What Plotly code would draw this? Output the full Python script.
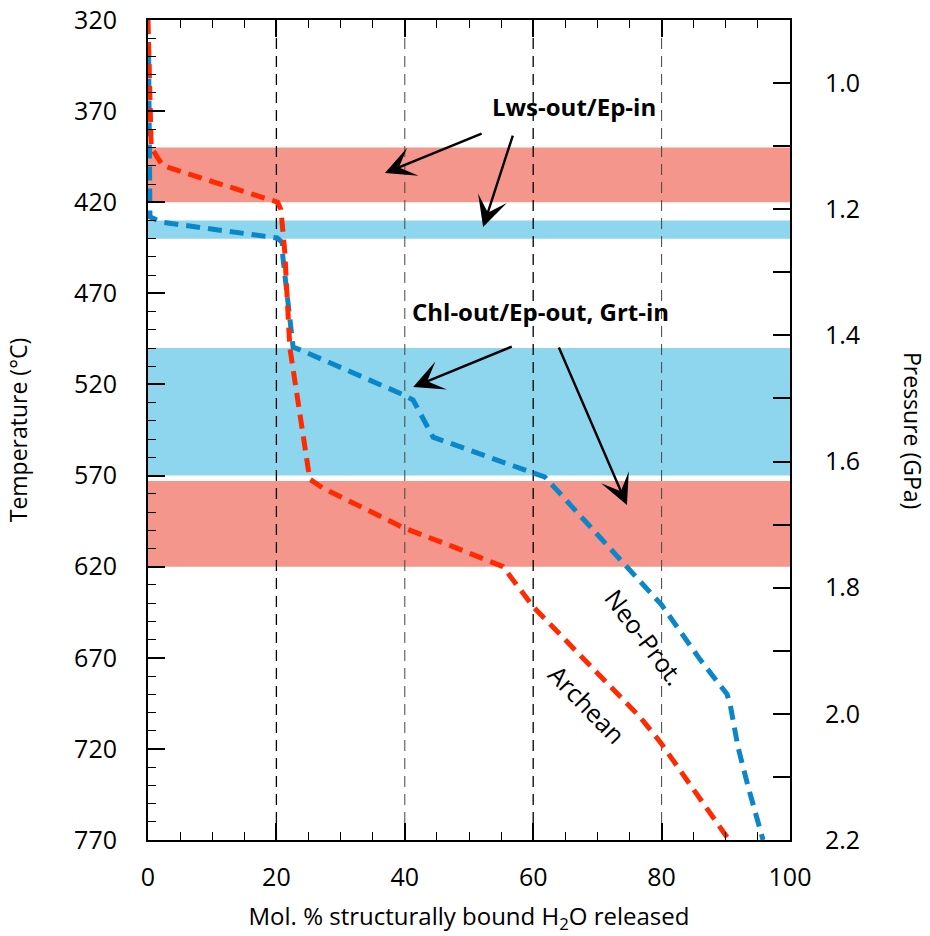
import plotly.graph_objects as go

# Dehydration curves: mol.% structurally bound H2O released vs temperature (°C)
neo_x = [0.1, 0.3, 0.4, 0.3, 2.2, 20.1, 20.9, 21.0, 22.6, 23.7, 40.0, 41.3, 42.4,
         44.4, 60.0, 61.8, 63.7, 75.1, 80.0, 86.0, 90.2, 90.7, 91.9, 93.5, 95.8]
neo_t = [340, 400, 425, 428, 431, 439.6, 442, 450, 499.5, 501, 526, 528.6, 535.8,
         548.9, 568.6, 570.8, 578, 622, 641, 671, 690, 696, 719, 741, 770]

arch_x = [0.0, 0.3, 0.5, 2.3, 20.2, 20.7, 21.3, 22.1, 23.7, 24.6, 25.2, 27.3,
          40.0, 47.5, 55.3, 60.0, 76.6, 79.8, 90.5]
arch_t = [320, 360, 390, 400, 420, 424, 447, 500, 538, 560, 572, 577,
          599, 609, 620, 642, 702.4, 716.3, 770]

# Reaction bands (temperature intervals)
red_bands = [(390, 420), (573, 620)]
blue_bands = [(430, 440), (500, 570)]

grid_x = [20, 40, 60, 80]

t_range = (320, 770)
p_range = (0.9, 2.2)

RED_LINE = "#ff2a00"
BLUE_LINE = "#0a86c9"
RED_BAND = "#f4968b"
BLUE_BAND = "#8dd6ee"
FONT = "Open Sans"

fig = go.Figure()

fig.add_trace(go.Scatter(x=neo_x, y=neo_t, mode="lines",
                         line=dict(color=BLUE_LINE, width=5, dash="14px,8px"),
                         showlegend=False))
fig.add_trace(go.Scatter(x=arch_x, y=arch_t, mode="lines",
                         line=dict(color=RED_LINE, width=5, dash="14px,8px"),
                         showlegend=False))
# invisible trace that anchors the pressure axis
fig.add_trace(go.Scatter(x=[0], y=[p_range[0]], yaxis="y2", mode="markers",
                         marker=dict(opacity=0), showlegend=False, hoverinfo="skip"))

shapes = []
for lo, hi in red_bands:
    shapes.append(dict(type="rect", xref="x", yref="y", x0=0, x1=100, y0=lo, y1=hi,
                       fillcolor=RED_BAND, line=dict(width=0), layer="below"))
for lo, hi in blue_bands:
    shapes.append(dict(type="rect", xref="x", yref="y", x0=0, x1=100, y0=lo, y1=hi,
                       fillcolor=BLUE_BAND, line=dict(width=0), layer="below"))
for gx in grid_x:
    strong = gx in (20, 60)
    shapes.append(dict(type="line", xref="x", yref="y", x0=gx, x1=gx,
                       y0=t_range[0], y1=t_range[1], layer="below",
                       line=dict(color="#000000" if strong else "#444444",
                                 width=1.3 if strong else 1.0, dash="11px,7px")))

annotations = [
    dict(x=66.4, y=367.7, xref="x", yref="y", text="<b>Lws-out/Ep-in</b>",
         showarrow=False, font=dict(family=FONT, size=24, color="black")),
    dict(x=61.1, y=480.2, xref="x", yref="y", text="<b>Chl-out/Ep-out, Grt-in</b>",
         showarrow=False, font=dict(family=FONT, size=24, color="black")),
    dict(x=77.4, y=658.6, xref="x", yref="y", text="Neo-Prot.", textangle=53,
         showarrow=False, font=dict(family=FONT, size=25, color="black")),
    dict(x=68.4, y=695.4, xref="x", yref="y", text="Archean", textangle=46,
         showarrow=False, font=dict(family=FONT, size=25, color="black")),
    dict(xref="paper", yref="paper", x=1.0, y=0.5, xshift=123, text="Pressure (GPa)",
         textangle=90, showarrow=False, xanchor="center", yanchor="middle",
         font=dict(family=FONT, size=23, color="black")),
]

arrows = [
    ((52.2, 382.0), (36.9, 404.0)),
    ((56.9, 382.6), (52.2, 433.6)),
    ((56.9, 498.9), (41.3, 521.4)),
    ((63.9, 498.9), (74.6, 586.2)),
]
for (tx, ty), (hx, hy) in arrows:
    annotations.append(dict(x=hx, y=hy, ax=tx, ay=ty, xref="x", yref="y",
                            axref="x", ayref="y", text="", showarrow=True,
                            arrowhead=3, arrowsize=2.1, arrowwidth=2.4,
                            arrowcolor="black"))

fig.update_layout(
    width=930, height=936,
    margin=dict(l=148, r=140, t=20, b=96, autoexpand=False),
    paper_bgcolor="white", plot_bgcolor="white",
    font=dict(family=FONT, size=24, color="black"),
    shapes=shapes, annotations=annotations,
    xaxis=dict(range=[0, 100], tickvals=[0, 20, 40, 60, 80, 100], automargin=False,
               ticks="inside", ticklen=17, tickwidth=1.5, tickcolor="black",
               minor=dict(dtick=5, ticks="inside", ticklen=8, tickwidth=1.2,
                          tickcolor="black"),
               showline=True, linecolor="black", linewidth=2, mirror="ticks",
               showgrid=False, zeroline=False, ticklabelstandoff=14,
               tickfont=dict(size=25),
               title=dict(text="Mol. % structurally bound H<sub>2</sub>O released",
                          standoff=16, font=dict(size=24))),
    yaxis=dict(range=[t_range[1], t_range[0]], tick0=320, dtick=50, automargin=False,
               ticks="inside", ticklen=17, tickwidth=1.5, tickcolor="black",
               minor=dict(dtick=10, ticks="inside", ticklen=8, tickwidth=1.2,
                          tickcolor="black"),
               showline=True, linecolor="black", linewidth=2, mirror=False,
               showgrid=False, zeroline=False, ticklabelstandoff=24,
               tickfont=dict(size=25),
               title=dict(text="Temperature (°C)", standoff=40, font=dict(size=23))),
    yaxis2=dict(range=[p_range[1], p_range[0]], overlaying="y", side="right",
                tick0=1.0, dtick=0.2, tickformat=".1f", automargin=False,
                ticks="inside", ticklen=17, tickwidth=1.5, tickcolor="black",
                minor=dict(dtick=0.1, ticks="inside", ticklen=17, tickwidth=1.5,
                           tickcolor="black"),
                showline=True, linecolor="black", linewidth=2,
                showgrid=False, zeroline=False, ticklabelstandoff=28,
                tickfont=dict(size=25)),
)

fig.write_html("out.html")
